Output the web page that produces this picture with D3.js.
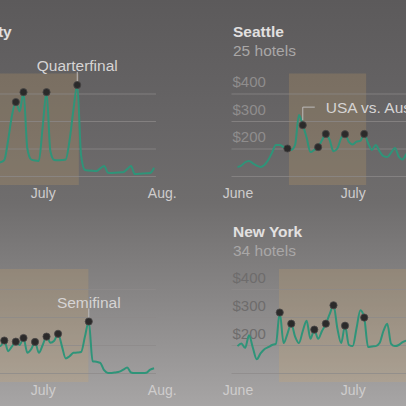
<!DOCTYPE html>
<html>
<head>
<meta charset="utf-8">
<script src="https://cdn.jsdelivr.net/npm/d3@7"></script>
<style>
  html, body { margin: 0; padding: 0; background: #6e6c6c; overflow: hidden; }
  svg { display: block; font-family: "Liberation Sans", Arial, sans-serif; }
</style>
</head>
<body>
<div id="chart"></div>
<script>
// day index: 0 = June 1
const monthTicks = [0, 30, 61];
const monthLabels = ["June", "July", "Aug."];
const priceTicks = [100, 200, 300, 400];

// Kansas City (top left)
const kcDays   = [17, 18, 19, 20, 21, 22, 23, 24, 25, 26, 27, 28, 29, 30, 31, 32, 33, 34, 35, 36, 37, 38, 39, 40, 41, 42, 43, 44, 45, 46, 47, 48, 49, 50, 51, 52, 53, 54, 55, 56, 57, 58, 59];
const kcPrices = [150, 148, 150, 158, 230, 320, 369, 335, 405, 200, 160, 156, 155, 280, 405, 190, 158, 157, 158, 160, 230, 340, 431, 175, 122, 120, 119, 118, 128, 136, 112, 111, 112, 113, 114, 125, 136, 107, 108, 109, 110, 111, 130];
const kcDots = [23, 25, 31, 39];
const kcShade = [14, 39.4];

// Seattle (top right)
const seaDays   = [0, 1, 2, 3, 4, 5, 6, 7, 8, 9, 10, 11, 12, 13, 14, 15, 16, 17, 18, 19, 20, 21, 22, 23, 24, 25, 26, 27, 28, 29, 30, 31, 32, 33, 34, 35, 36, 37, 38, 39, 40, 41, 42, 43, 44, 45];
const seaPrices = [133, 138, 150, 155, 146, 138, 133, 140, 158, 185, 213, 213, 205, 200, 195, 213, 322, 285, 240, 187, 195, 205, 230, 253, 231, 190, 200, 238, 252, 224, 215, 225, 228, 253, 220, 195, 213, 190, 172, 169, 185, 202, 170, 160, 180, 190];
const seaDots = [13, 17, 21, 23, 28, 33];
const seaShade = [13.4, 33.5];

// bottom left (semifinal city)
const sfDays   = [17, 18, 19, 20, 21, 22, 23, 24, 25, 26, 27, 28, 29, 30, 31, 32, 33, 34, 35, 36, 37, 38, 39, 40, 41, 42, 43, 44, 45, 46, 47, 48, 49, 50, 51, 52, 53, 54, 55, 56, 57, 58, 59];
const sfPrices = [190, 200, 196, 216, 178, 195, 212, 200, 225, 172, 185, 211, 172, 200, 230, 208, 215, 240, 196, 152, 160, 172, 173, 175, 230, 284, 142, 140, 136, 110, 100, 100, 102, 105, 112, 120, 102, 100, 100, 100, 101, 112, 117];
const sfDots = [20, 23, 25, 28, 31, 34, 42];
const sfShade = [14, 41.9];

// New York (bottom right)
const nyDays   = [0, 1, 2, 3, 4, 5, 6, 7, 8, 9, 10, 11, 12, 13, 14, 15, 16, 17, 18, 19, 20, 21, 22, 23, 24, 25, 26, 27, 28, 29, 30, 31, 32, 33, 34, 35, 36, 37, 38, 39, 40, 41, 42, 43, 44, 45];
const nyPrices = [196, 205, 190, 235, 190, 149, 170, 185, 192, 200, 204, 316, 207, 240, 276, 230, 207, 250, 287, 222, 255, 222, 250, 276, 310, 342, 260, 207, 269, 200, 196, 260, 324, 298, 193, 195, 196, 207, 250, 276, 204, 196, 200, 210, 215, 205];
const nyDots = [11, 14, 20, 23, 25, 28, 33];
const nyShade = [10.8, 48.5];

const panels = [
  { title: "Kansas City", sub: "", days: kcDays, prices: kcPrices, dots: kcDots, shade: kcShade,
    x0: -72.5, yBase: 176, step: 27.5, titleY: 36.5, labelFill: "#8f8d8d",
    note: { text: "Quarterfinal", day: 39, type: "center" } },
  { title: "Seattle", sub: "25 hotels", days: seaDays, prices: seaPrices, dots: seaDots, shade: seaShade,
    x0: 237.5, yBase: 176, step: 27.5, titleY: 36.5, labelFill: "#8f8d8d",
    note: { text: "USA vs. Australia", day: 17, type: "elbow" } },
  { title: "", sub: "", days: sfDays, prices: sfPrices, dots: sfDots, shade: sfShade,
    x0: -72.5, yBase: 373, step: 28, titleY: 236.5, labelFill: "#6e6c6c",
    note: { text: "Semifinal", day: 42, type: "center" } },
  { title: "New York", sub: "34 hotels", days: nyDays, prices: nyPrices, dots: nyDots, shade: nyShade,
    x0: 237.5, yBase: 373, step: 28, titleY: 236.5, labelFill: "#6e6c6c",
    note: null }
];

const W = 406, H = 406, pxPerDay = 3.84;

const svg = d3.select("#chart").append("svg")
    .attr("width", W)
    .attr("height", H);

// photographed-screen look: darker at the top, lighter at the bottom
const defs = svg.append("defs");
const grad = defs.append("linearGradient")
    .attr("id", "bg").attr("x1", 0).attr("y1", 0).attr("x2", 0).attr("y2", 1);
grad.append("stop").attr("offset", "0%").attr("stop-color", "#5c5a5b");
grad.append("stop").attr("offset", "30%").attr("stop-color", "#676566");
grad.append("stop").attr("offset", "50%").attr("stop-color", "#6f6d6d");
grad.append("stop").attr("offset", "75%").attr("stop-color", "#8a8888");
grad.append("stop").attr("offset", "100%").attr("stop-color", "#a7a5a5");

svg.append("rect")
    .attr("width", W).attr("height", H)
    .attr("fill", "url(#bg)");

panels.forEach(function (p) {
    var x = d3.scaleLinear()
        .domain([0, 61])
        .range([p.x0, p.x0 + 61 * pxPerDay]);
    var y = d3.scaleLinear()
        .domain([100, 400])
        .range([p.yBase, p.yBase - 3 * p.step]);

    var g = svg.append("g");

    // match period highlight
    g.append("rect")
        .attr("x", x(p.shade[0]))
        .attr("width", x(p.shade[1]) - x(p.shade[0]))
        .attr("y", y(400) - 20)
        .attr("height", y(100) - y(400) + 29)
        .attr("fill", "#d6a865")
        .attr("fill-opacity", 0.2);

    // gridlines + price labels (labels only where the panel's left edge is on screen)
    var showLabels = p.x0 > 0;
    var gy = g.append("g")
        .attr("transform", "translate(" + (p.x0 - 6) + ",0)")
        .call(d3.axisRight(y)
            .tickValues(priceTicks)
            .tickSize(x(59.5) - p.x0 + 6)
            .tickFormat(function (v) { return (v === 100 || !showLabels) ? "" : "$" + v; }));
    gy.select(".domain").remove();
    gy.selectAll("line")
        .attr("stroke", "#8c8a8a")
        .attr("stroke-opacity", 0.75)
        .attr("stroke-width", 1);
    gy.selectAll("text").filter(function () { return this.textContent === ""; }).remove();
    gy.selectAll("text")
        .attr("x", 1)
        .attr("dy", -7)
        .attr("fill", p.labelFill)
        .style("font-size", "15px");

    // month labels
    var ticksOn = monthTicks.filter(function (d) { return x(d) > 0 && x(d) < W; });
    var gx = g.append("g")
        .attr("transform", "translate(0," + (p.yBase + 22) + ")")
        .call(d3.axisBottom(x)
            .tickValues(ticksOn)
            .tickSize(0)
            .tickFormat(function (d) { return monthLabels[monthTicks.indexOf(d)]; }));
    gx.select(".domain").remove();
    gx.selectAll("text")
        .attr("y", 0)
        .attr("dy", 0)
        .attr("fill", "#cfcdcd")
        .style("font-size", "14px");

    // titles
    if (p.title) {
        g.append("text")
            .attr("x", p.x0 - 4.5)
            .attr("y", p.titleY)
            .attr("fill", "#e2e0e0")
            .style("font-size", "15.5px")
            .style("font-weight", "bold")
            .text(p.title);
    }
    if (p.sub) {
        g.append("text")
            .attr("x", p.x0 - 4.5)
            .attr("y", p.titleY + 19.5)
            .attr("fill", "#a9a7a7")
            .style("font-size", "15.5px")
            .text(p.sub);
    }

    var series = p.days.map(function (d, i) { return { day: d, price: p.prices[i] }; });
    var byDay = new Map(series.map(function (s) { return [s.day, s.price]; }));

    var line = d3.line()
        .x(function (d) { return x(d.day); })
        .y(function (d) { return y(d.price); })
        .curve(d3.curveMonotoneX);

    g.append("path")
        .datum(series)
        .attr("d", line)
        .attr("fill", "none")
        .attr("stroke", "#2f9479")
        .attr("stroke-width", 2)
        .attr("stroke-linejoin", "round");

    g.selectAll(".dot")
        .data(p.dots).enter()
        .append("circle")
        .attr("class", "dot")
        .attr("cx", function (d) { return x(d); })
        .attr("cy", function (d) { return y(byDay.get(d)); })
        .attr("r", 3.6)
        .attr("fill", "#2b2a2a")
        .attr("stroke", "#4a4848")
        .attr("stroke-width", 0.8);

    // annotation
    if (p.note) {
        var nx = x(p.note.day), ny = y(byDay.get(p.note.day));
        if (p.note.type === "center") {
            g.append("line")
                .attr("x1", nx).attr("x2", nx)
                .attr("y1", ny - 13).attr("y2", ny - 4)
                .attr("stroke", "#bdbbbb").attr("stroke-width", 1);
            g.append("text")
                .attr("x", nx)
                .attr("y", ny - 13.5)
                .attr("text-anchor", "middle")
                .attr("fill", "#d6d4d4")
                .style("font-size", "15.5px")
                .text(p.note.text);
        } else {
            g.append("path")
                .attr("d", "M" + nx + "," + (ny - 5) + "V" + (ny - 18) + "H" + (nx + 12))
                .attr("fill", "none")
                .attr("stroke", "#bdbbbb").attr("stroke-width", 1);
            g.append("text")
                .attr("x", nx + 23)
                .attr("y", ny - 12.5)
                .attr("fill", "#d6d4d4")
                .style("font-size", "15.5px")
                .text(p.note.text);
        }
    }
});
</script>
</body>
</html>
